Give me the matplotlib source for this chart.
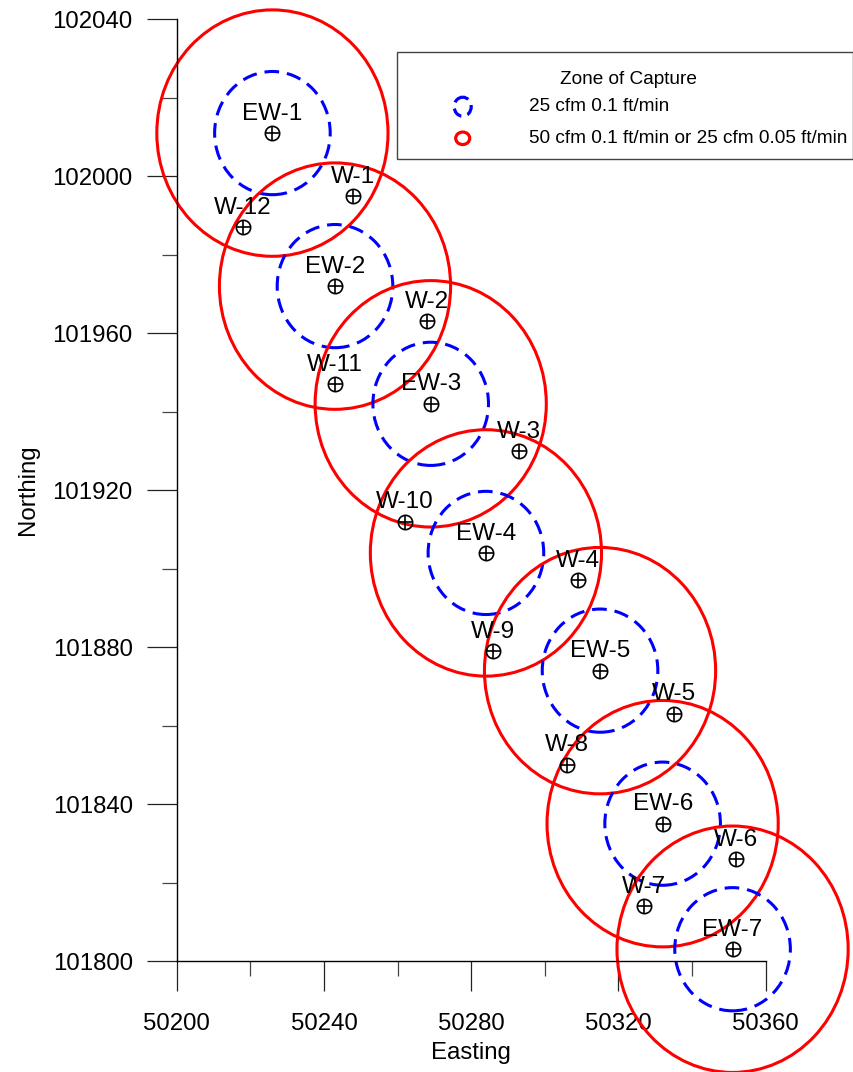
import matplotlib
matplotlib.use("Agg")
import matplotlib.pyplot as plt
from matplotlib.patches import Circle, Ellipse, Rectangle
from matplotlib.ticker import MultipleLocator

plt.rcParams["font.family"] = ["Liberation Sans", "DejaVu Sans"]

# Extraction wells (centres of the capture zones)
ew_names = ["EW-1", "EW-2", "EW-3", "EW-4", "EW-5", "EW-6", "EW-7"]
ew_east = [50226, 50243, 50269, 50284, 50315, 50332, 50351]
ew_north = [102011, 101972, 101942, 101904, 101874, 101835, 101803]

# Monitoring wells
w_names = ["W-1", "W-2", "W-3", "W-4", "W-5", "W-6",
           "W-7", "W-8", "W-9", "W-10", "W-11", "W-12"]
w_east = [50248, 50268, 50293, 50309, 50335, 50352,
          50327, 50306, 50286, 50262, 50243, 50218]
w_north = [101995, 101963, 101930, 101897, 101863, 101826,
           101814, 101850, 101879, 101912, 101947, 101987]

# Capture-zone radii (ft)
radius_25cfm = 15.7
radius_50cfm = 31.4

legend_title = "Zone of Capture"
legend_labels = ["25 cfm 0.1 ft/min",
                 "50 cfm 0.1 ft/min or 25 cfm 0.05 ft/min"]

W, H = 854, 1072
fig = plt.figure(figsize=(W / 100, H / 100), dpi=100)
ax = fig.add_axes([176.7 / W, 1 - 961 / H, 589 / W, 941.7 / H])

ax.set_xlim(50200, 50360)
ax.set_ylim(101800, 102040)
for side in ("top", "right"):
    ax.spines[side].set_visible(False)
for side in ("left", "bottom"):
    ax.spines[side].set_linewidth(1.0)

ax.xaxis.set_major_locator(MultipleLocator(40))
ax.xaxis.set_minor_locator(MultipleLocator(20))
ax.yaxis.set_major_locator(MultipleLocator(40))
ax.yaxis.set_minor_locator(MultipleLocator(20))
ax.tick_params(axis="both", which="major", direction="out", length=21.6,
               width=0.9, color="#222222", labelsize=17.3)
ax.tick_params(axis="both", which="minor", direction="out", length=10.8,
               width=0.9, color="#444444")
ax.tick_params(axis="x", which="major", pad=16)
ax.tick_params(axis="y", which="major", pad=10)

ax.set_xlabel("Easting", fontsize=17.3, labelpad=5)
ax.set_ylabel("Northing", fontsize=17.3, labelpad=10)

# Capture zones around each extraction well
for x, y in zip(ew_east, ew_north):
    ax.add_patch(Circle((x, y), radius_50cfm, fill=False, edgecolor="#ff0000",
                        linewidth=2.2, clip_on=False, zorder=2))
    ax.add_patch(Circle((x, y), radius_25cfm, fill=False, edgecolor="#0000ff",
                        linewidth=2.2, linestyle=(0, (4.8, 2.6)),
                        clip_on=False, zorder=2))

# Well symbols (circle with cross) and labels
all_names = ew_names + w_names
all_east = ew_east + w_east
all_north = ew_north + w_north
ax.plot(all_east, all_north, linestyle="none", marker="o", markersize=10.3,
        markerfacecolor="none", markeredgecolor="black", markeredgewidth=1.2,
        clip_on=False, zorder=4)
ax.plot(all_east, all_north, linestyle="none", marker="+", markersize=10.3,
        markeredgecolor="black", markeredgewidth=1.2, clip_on=False, zorder=4)
for name, x, y in zip(all_names, all_east, all_north):
    ax.annotate(name, (x, y), xytext=(0, 9.6), textcoords="offset points",
                ha="center", va="baseline", fontsize=17.5, color="black",
                zorder=3, annotation_clip=False)

# Legend panel drawn in pixel coordinates
lg = fig.add_axes([0, 0, 1, 1], zorder=5)
lg.set_xlim(0, W)
lg.set_ylim(H, 0)
lg.axis("off")
lg.patch.set_alpha(0)
lg.add_patch(Rectangle((397.5, 51.7), 455.5, 107.6, facecolor="white",
                       edgecolor="#444444", linewidth=1.0))
lg.text(628, 79, legend_title, ha="center", va="center", fontsize=13.7)
lg.add_patch(Ellipse((462.7, 106.7), 17, 19, fill=False, edgecolor="#0000ff",
                     linewidth=2.3, linestyle=(1.5, (3.4, 2.0))))
lg.add_patch(Ellipse((462.7, 138.3), 14, 12.5, fill=False, edgecolor="#ff0000",
                     linewidth=2.3))
lg.text(529.3, 106.7, legend_labels[0], ha="left", va="center", fontsize=13.7)
lg.text(529.3, 138.3, legend_labels[1], ha="left", va="center", fontsize=13.7)

fig.savefig("out.png", dpi=100)
